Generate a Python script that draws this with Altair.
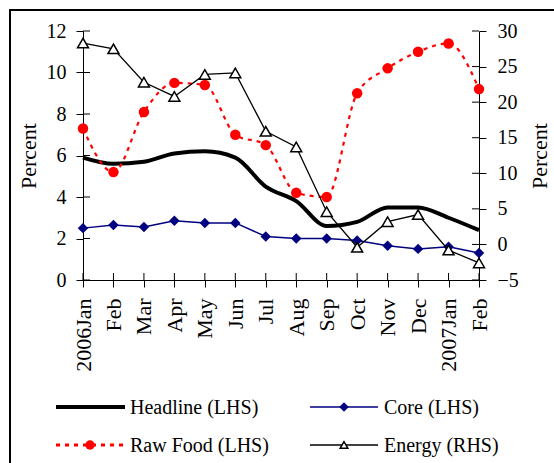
import json
import altair as alt
import pandas as pd

# Monthly inflation, Jan 2006 - Feb 2007
months = ["2006Jan", "Feb", "Mar", "Apr", "May", "Jun", "Jul", "Aug",
          "Sep", "Oct", "Nov", "Dec", "2007Jan", "Feb"]
headline = [5.9, 5.6, 5.7, 6.1, 6.2, 5.9, 4.5, 3.8, 2.6, 2.8, 3.5, 3.5, 3.0, 2.4]
core = [2.5, 2.65, 2.55, 2.85, 2.75, 2.75, 2.1, 2.0, 2.0, 1.9, 1.65, 1.5, 1.6, 1.3]
raw_food = [7.3, 5.2, 8.1, 9.5, 9.4, 7.0, 6.5, 4.2, 4.0, 9.0, 10.2, 11.0, 11.4, 9.2]
energy = [28.3, 27.5, 22.8, 20.8, 23.9, 24.1, 15.9, 13.7, 4.6, -0.4, 3.2, 4.2, -0.8, -2.6]

lhs_ticks = [0, 2, 4, 6, 8, 10, 12]
rhs_ticks = [-5, 0, 5, 10, 15, 20, 25, 30]

legend_labels = ["Headline (LHS)", "Core (LHS)", "Raw Food (LHS)", "Energy (RHS)"]

FONT = "Liberation Serif, Times New Roman, Times, serif"
W, H = 396, 249
NAVY = "#000080"

idx = list(range(len(months)))
df = pd.DataFrame({"idx": idx, "headline": headline, "core": core,
                   "raw_food": raw_food, "energy": energy})

x_axis = alt.Axis(labelExpr=f"{json.dumps(months)}[datum.value]", labelAngle=270,
                  labelFontSize=22, labelPadding=11, title=None, tickSize=7)
x_enc = alt.X("idx:O", scale=alt.Scale(type="point", padding=0, domain=idx), axis=x_axis)

left_axis = alt.Axis(values=lhs_ticks, labelFontSize=20, labelPadding=10, tickSize=7,
                     title="Percent", titleFontSize=22, titleFontWeight="normal",
                     titleAngle=270, titleX=-55, titleY=H / 2, titleAlign="center",
                     titleBaseline="middle")
right_axis = alt.Axis(values=rhs_ticks, orient="right", labelFontSize=20, labelPadding=11,
                      tickSize=7, labelAlign="left",
                      title="Percent", titleFontSize=22, titleFontWeight="normal",
                      titleAngle=270, titleX=60.5, titleY=H / 2, titleAlign="center",
                      titleBaseline="middle")
left_scale = alt.Scale(domain=[0, 12], nice=False, zero=False)
right_scale = alt.Scale(domain=[-5, 30], nice=False, zero=False)

base = alt.Chart(df)

headline_line = base.mark_line(color="black", strokeWidth=4, interpolate="monotone").encode(
    x=x_enc, y=alt.Y("headline:Q", scale=left_scale, axis=left_axis))
core_line = base.mark_line(color=NAVY, strokeWidth=1.5).encode(
    x=x_enc, y=alt.Y("core:Q", scale=left_scale, axis=left_axis))
core_pts = base.mark_point(shape="diamond", filled=True, color=NAVY, size=110, opacity=1).encode(
    x=x_enc, y=alt.Y("core:Q", scale=left_scale, axis=left_axis))
food_line = base.mark_line(color="red", strokeWidth=2.2, strokeDash=[4, 5],
                           interpolate="monotone").encode(
    x=x_enc, y=alt.Y("raw_food:Q", scale=left_scale, axis=left_axis))
food_pts = base.mark_circle(color="red", size=110, opacity=1).encode(
    x=x_enc, y=alt.Y("raw_food:Q", scale=left_scale, axis=left_axis))

# inner halves of the cross-style tick marks
x_in = alt.Chart(pd.DataFrame({"idx": idx})).mark_rule(color="black", strokeWidth=1).encode(
    x=x_enc, y=alt.value(H - 7), y2=alt.value(H))
lhs_in = alt.Chart(pd.DataFrame({"headline": lhs_ticks})).mark_rule(color="black", strokeWidth=1).encode(
    y=alt.Y("headline:Q", scale=left_scale, axis=left_axis), x=alt.value(0), x2=alt.value(7))

energy_line = base.mark_line(color="black", strokeWidth=1.3).encode(
    x=x_enc, y=alt.Y("energy:Q", scale=right_scale, axis=right_axis))
energy_pts = base.mark_point(shape="triangle-up", filled=True, fill="white", stroke="black",
                             strokeWidth=1.5, size=120, opacity=1).encode(
    x=x_enc, y=alt.Y("energy:Q", scale=right_scale, axis=right_axis))
rhs_in = alt.Chart(pd.DataFrame({"energy": rhs_ticks})).mark_rule(color="black", strokeWidth=1).encode(
    y=alt.Y("energy:Q", scale=right_scale, axis=right_axis), x=alt.value(W - 7), x2=alt.value(W))

left = alt.layer(headline_line, core_line, core_pts, food_line, food_pts, x_in, lhs_in)
right = alt.layer(energy_line, energy_pts, rhs_in)

# legend, two rows by two columns under the plot
one = pd.DataFrame({"k": [0]})
row1, row2 = 376, 414
c1 = (-27, 42, 7, 47)
c2 = (227, 295, 261, 301)


def item(label, col, row, line_kw, marker=None):
    x0, x1, xm, xt = col
    parts = [alt.Chart(one).mark_rule(**line_kw).encode(
        x=alt.value(x0), x2=alt.value(x1), y=alt.value(row))]
    if marker is not None:
        parts.append(alt.Chart(one).mark_point(**marker).encode(
            x=alt.value(xm), y=alt.value(row)))
    parts.append(alt.Chart(pd.DataFrame({"label": [label]})).mark_text(
        align="left", baseline="middle", font=FONT, fontSize=20, color="black").encode(
        x=alt.value(xt), y=alt.value(row + 1), text="label:N"))
    return parts


legend = []
legend += item(legend_labels[0], c1, row1, dict(color="black", strokeWidth=4))
legend += item(legend_labels[1], c2, row1, dict(color=NAVY, strokeWidth=1.5),
               dict(shape="diamond", filled=True, color=NAVY, size=90, opacity=1))
legend += item(legend_labels[2], c1, row2, dict(color="red", strokeWidth=3, strokeDash=[4, 5]),
               dict(shape="circle", filled=True, color="red", size=90, opacity=1))
legend += item(legend_labels[3], c2, row2, dict(color="black", strokeWidth=1.5),
               dict(shape="triangle-up", filled=True, fill="white", stroke="black",
                    strokeWidth=1.5, size=60, opacity=1))

frame = alt.Chart(one).mark_rect(filled=False, stroke="black", strokeWidth=2).encode(
    x=alt.value(-73), x2=alt.value(800), y=alt.value(-21), y2=alt.value(800))

chart = alt.layer(
    alt.layer(left, right).resolve_scale(y="independent"),
    *legend, frame
).properties(
    width=W, height=H,
    autosize=alt.AutoSizeParams(type="none"),
    padding={"left": 83, "top": 31, "right": 75, "bottom": 183},
    background="white",
).configure_view(strokeWidth=0).configure_axis(
    labelFont=FONT, titleFont=FONT, labelColor="black", domainColor="black",
    tickColor="black", domainWidth=1, tickWidth=1, grid=False, titleColor="black",
).configure_text(font=FONT)

chart.save("out.html", embed_options={"renderer": "svg", "actions": False})
